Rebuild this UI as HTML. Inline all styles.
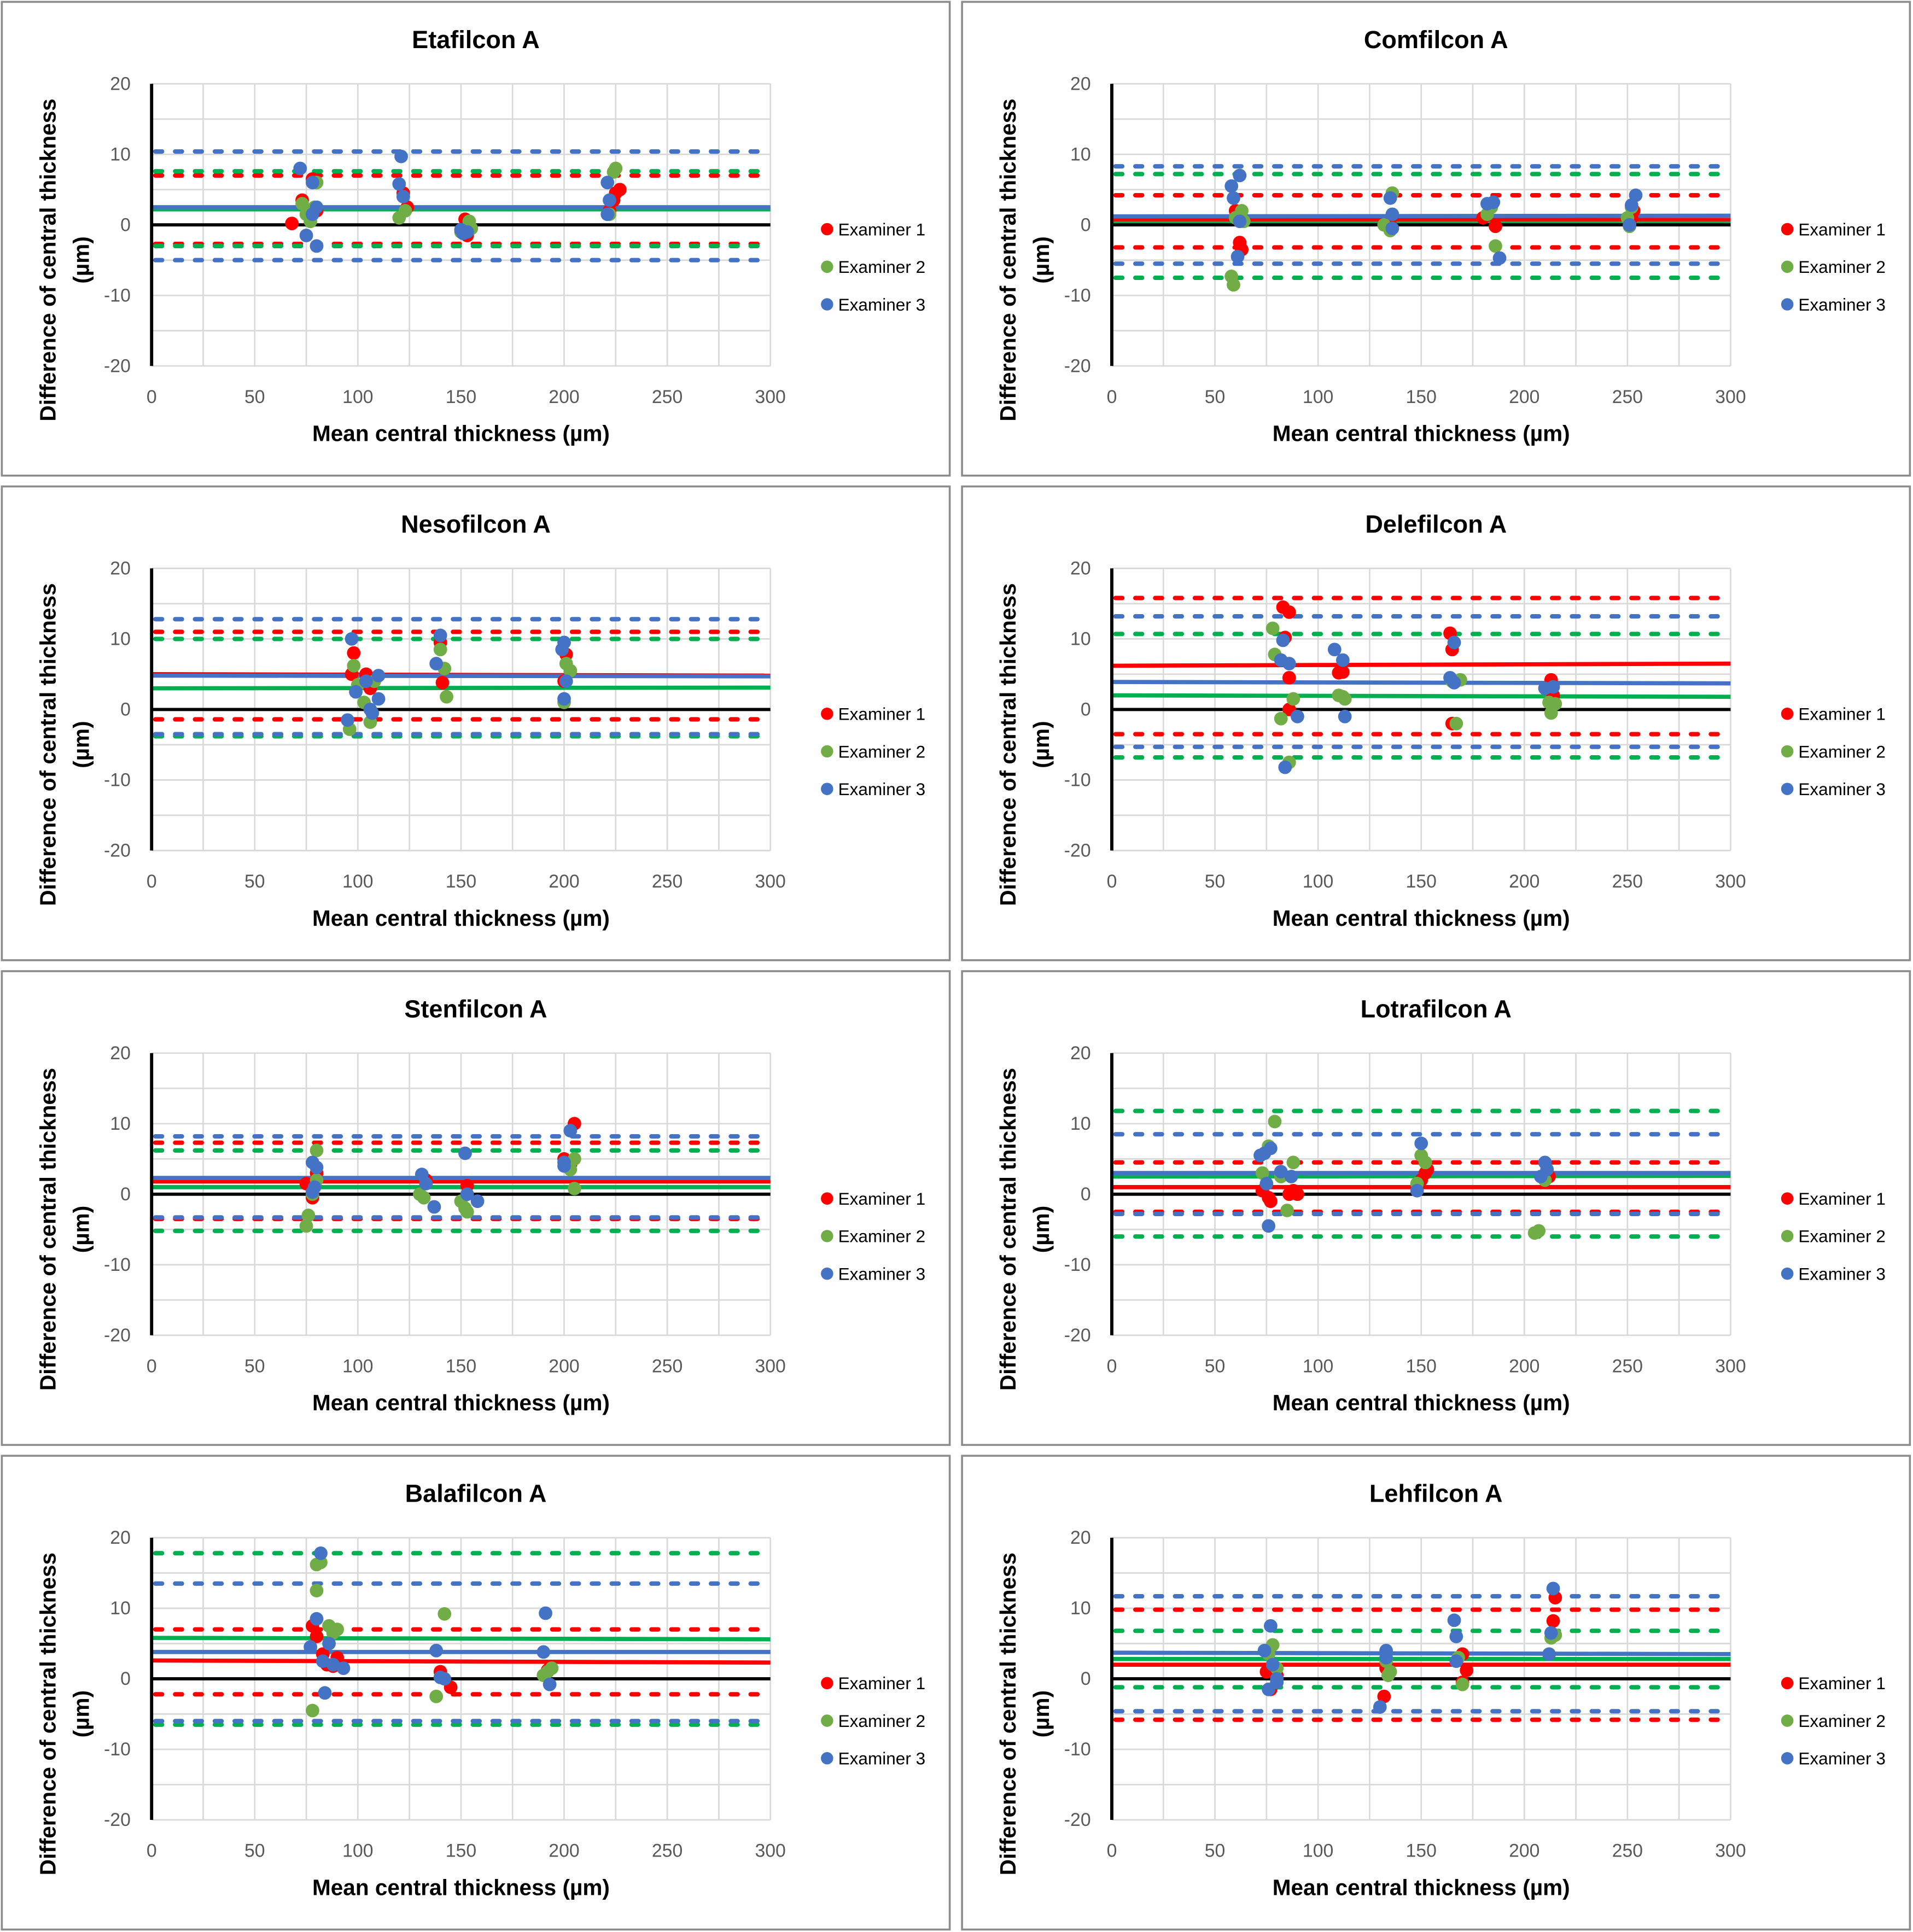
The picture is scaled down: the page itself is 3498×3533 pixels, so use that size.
<!DOCTYPE html>
<html><head><meta charset="utf-8"><style>
html,body{margin:0;padding:0;background:#fff;}
svg{display:block;font-family:"Liberation Sans",sans-serif;}
</style></head><body>
<svg id="fig" width="3498" height="3533" viewBox="0 0 1552 1568" preserveAspectRatio="none" xmlns="http://www.w3.org/2000/svg"></svg>
<script>
const titles=["Etafilcon A","Comfilcon A","Nesofilcon A","Delefilcon A","Stenfilcon A","Lotrafilcon A","Balafilcon A","Lehfilcon A"];
const xTicks=[0,50,100,150,200,250,300];
const yTicks=[20,10,0,-10,-20];
const seriesNames=["Examiner 1","Examiner 2","Examiner 3"];
// mean bias [start,end] per examiner per panel
const meanLines=[
[[2.3,2.3],[2.2,2.2],[2.5,2.5]],
[[0.7,0.7],[0.2,0.2],[1.2,1.3]],
[[5,4.8],[3,3.1],[4.8,4.7]],
[[6.2,6.5],[2,1.8],[3.9,3.7]],
[[1.8,1.8],[1,1],[2.3,2.3]],
[[1,1],[2.5,2.6],[3,3]],
[[2.6,2.3],[5.8,5.6],[3.8,3.8]],
[[2,2],[2.8,2.8],[3.7,3.5]]];
// limits of agreement [upper,lower]
const loaLines=[
[[7,-2.7],[7.6,-3],[10.4,-5]],
[[4.2,-3.2],[7.2,-7.5],[8.3,-5.5]],
[[11,-1.4],[10,-3.8],[12.8,-3.5]],
[[15.8,-3.5],[10.7,-6.8],[13.2,-5.3]],
[[7.3,-3.5],[6.2,-5.2],[8.2,-3.3]],
[[4.5,-2.5],[11.8,-6],[8.5,-2.8]],
[[7,-2.2],[17.8,-6.5],[13.5,-6]],
[[9.8,-5.8],[6.8,-1.2],[11.7,-4.6]]];
const pts1=[
[[68,0.2],[73,3.5],[78,6.5],[80,2],[122,4.5],[124,2.5],[152,0.8],[153,-1.5],[225,4.5],[227,5],[222,2],[224,3.5]],
[[60,2],[62,-2.5],[63,-3.5],[135,0],[180,1],[186,-0.2],[252,1],[253,2]],
[[98,8],[97,5],[104,5],[106,3],[140,9.5],[141,3.8],[200,4],[201,7.8]],
[[83,14.5],[86,13.8],[84,10.2],[86,4.5],[86,0],[110,5.2],[112,5.3],[164,10.8],[165,8.5],[165,-2],[213,4.2],[214,2]],
[[75,1.5],[80,3],[78,-0.5],[133,2],[153,1.2],[205,10],[203,4.2],[200,5]],
[[73,0.5],[76,-0.5],[77,-1],[86,0],[88,0.5],[90,0],[150,2],[152,3],[153,3.5],[210,2],[212,2.5]],
[[78,7.5],[80,6],[83,3.5],[85,2],[88,1.8],[90,3],[140,1],[145,-1.2],[192,1.2],[193,1.5]],
[[75,1],[77,-1.5],[80,0.5],[132,-2.5],[133,1.5],[170,3.5],[172,1.2],[170,-0.5],[215,11.5],[214,8.2]]];
const pts2=[
[[73,3],[75,1.5],[77,0.5],[80,6],[79,2.5],[120,1],[123,2],[150,-1],[154,0.5],[155,-0.5],[224,7.5],[225,8],[222,1.5]],
[[58,-7.3],[59,-8.5],[60,1],[63,2],[64,0.5],[132,0],[135,-0.8],[136,4.5],[182,1.5],[184,2.5],[186,-3],[250,1],[252,2.5],[251,-0.2]],
[[96,-2.8],[98,6.2],[100,3.5],[103,1],[106,-1.8],[108,4],[140,8.5],[142,5.8],[143,1.8],[200,1],[201,6.5],[203,5.5]],
[[78,11.5],[79,7.8],[82,-1.3],[86,-7.5],[88,1.5],[110,2],[112,1.8],[113,1.5],[165,4],[167,-2],[169,4.2],[212,1],[213,-0.5],[215,0.8]],
[[75,-4.5],[76,-3],[80,6.2],[80,2],[78,0],[132,-0.5],[130,0],[150,-1],[152,-2],[153,-2.5],[203,3.5],[205,5],[205,0.8]],
[[73,3],[76,6.8],[79,10.3],[82,2.5],[85,-2.3],[88,4.5],[148,1.5],[150,5.5],[152,4.5],[205,-5.5],[207,-5.2],[210,2]],
[[78,-4.5],[80,12.5],[80,16.2],[82,16.5],[86,7.5],[88,6.5],[90,7],[138,-2.5],[142,9.2],[190,0.5],[192,1],[194,1.5]],
[[76,3.5],[78,4.8],[80,1.5],[80,-0.5],[134,0.5],[135,1],[133,2.5],[168,3],[170,-0.8],[213,5.8],[215,6.2]]];
const pts3=[
[[72,8],[75,-1.5],[78,6],[80,2.5],[80,-3],[78,1.5],[120,5.8],[121,9.7],[122,4],[150,-0.7],[151,-1.2],[153,-1],[221,1.5],[222,3.5],[221,6]],
[[58,5.5],[59,3.8],[62,7],[61,-4.5],[62,0.5],[135,3.8],[136,1.5],[136,-0.5],[182,3],[185,3.2],[188,-4.7],[251,0],[252,2.8],[254,4.2]],
[[95,-1.5],[97,10],[99,2.5],[104,4],[106,0],[107,-0.5],[110,4.8],[110,1.5],[138,6.5],[140,10.5],[200,9.5],[199,8.5],[200,1.5],[201,4]],
[[82,7],[83,9.8],[84,-8.2],[86,6.5],[90,-1],[108,8.5],[112,7],[113,-1],[164,4.5],[166,9.5],[166,3.8],[210,3],[214,3.2]],
[[78,4.5],[80,3.8],[79,1],[78,0.3],[131,2.8],[133,1.5],[137,-1.8],[152,5.8],[153,0],[158,-1],[200,4.5],[203,9],[200,4]],
[[72,5.5],[74,5.8],[75,1.5],[76,-4.5],[77,6.5],[82,3.2],[87,2.5],[148,0.5],[150,7.2],[210,4.5],[211,3.5],[208,2.5]],
[[77,4.5],[80,8.5],[82,17.8],[83,2.5],[84,-2],[86,5],[88,2],[93,1.5],[138,4],[140,0.2],[142,0],[190,3.8],[191,9.3],[193,-0.8]],
[[74,4],[76,-1.5],[77,7.5],[78,2],[80,0],[80,-0.5],[130,-4],[133,4],[133,3],[166,8.3],[167,6],[167,2.5],[212,3.5],[214,12.8],[213,6.5]]];

const NS="http://www.w3.org/2000/svg";
const svg=document.getElementById('fig');
const ptColors=["#ff0000","#70ad47","#4472c4"];
const lineColors=["#ff0000","#00b050","#4472c4"];
function mk(tag,attrs,parent){const e=document.createElementNS(NS,tag);for(const k in attrs)e.setAttribute(k,attrs[k]);parent.appendChild(e);return e;}
const panelW=771, colOff=[0,779], rowOff=[0,393.3,786.7,1180];
for(let p=0;p<8;p++){
  const ox=colOff[p%2], oy=rowOff[Math.floor(p/2)];
  const g=mk('g',{transform:`translate(${ox},${oy})`},svg);
  
  
  const border=mk('rect',{x:1.5,y:1.5,width:panelW-2,height:384.5,fill:'#fff',stroke:'#8c8c8c','stroke-width':1.6},g);
  
  
  const X0=123,X1=625,Y0=68,Y1=297;
  const sx=v=>X0+(v/300)*(X1-X0);
  const sy=v=>Y0+(20-v)/40*(Y1-Y0);
  const t=mk('text',{x:386,y:39,'text-anchor':'middle','font-size':20,'font-weight':'bold',fill:'#000'},g);
  t.textContent=titles[p];
  
  
  for(let v=25;v<=300;v+=25){const l=mk('line',{x1:sx(v),x2:sx(v),y1:Y0,y2:Y1,stroke:'#d9d9d9','stroke-width':1.2},g);}
  for(let v=-20;v<=20;v+=5){if(v===0)continue;const l=mk('line',{x1:X0,x2:X1,y1:sy(v),y2:sy(v),stroke:'#d9d9d9','stroke-width':1.2},g);}
  xTicks.forEach(v=>{const e=mk('text',{x:sx(v),y:327,'text-anchor':'middle','font-size':15,fill:'#595959'},g);e.textContent=v;});
  yTicks.forEach(v=>{const e=mk('text',{x:106,y:sy(v)+5,'text-anchor':'end','font-size':15,fill:'#595959'},g);e.textContent=v;});
  const xt=mk('text',{x:374,y:358,'text-anchor':'middle','font-size':18,'font-weight':'bold',fill:'#000'},g);
  xt.textContent='Mean central thickness (µm)';
  
  
  const yt=mk('text',{transform:'translate(45,211) rotate(-90)','text-anchor':'middle','font-size':18,'font-weight':'bold',fill:'#000'},g);
  
  
  const ts1=mk('tspan',{x:0,dy:0},yt);ts1.textContent='Difference of central thickness';
  const ts2=mk('tspan',{x:0,dy:27},yt);ts2.textContent='(µm)';
  for(let s=0;s<3;s++){
    loaLines[p][s].forEach(v=>{const l=mk('line',{x1:sx(0)+3,x2:X1-3,y1:sy(v),y2:sy(v),stroke:lineColors[s],'stroke-width':3.6,'stroke-dasharray':'5.5 10.6','stroke-linecap':'round'},g);});
  }
  for(let s=0;s<3;s++){
    const m=meanLines[p][s];
    const l=mk('line',{x1:sx(0),x2:X1,y1:sy(m[0]),y2:sy(m[1]),stroke:lineColors[s],'stroke-width':3.4},g);
    
    
  }
  const ya=mk('line',{x1:X0,x2:X0,y1:Y0,y2:Y1,stroke:'#000','stroke-width':2.6},g);
  const xa=mk('line',{x1:X0,x2:X1,y1:sy(0),y2:sy(0),stroke:'#000','stroke-width':2.6},g);
  [pts1,pts2,pts3].forEach((arr,s)=>{
    arr[p].forEach(d=>{const c=mk('circle',{cx:sx(d[0]),cy:sy(d[1]),r:5.5,fill:ptColors[s]},g);});
  });
  seriesNames.forEach((n,s)=>{
    const ly=186+s*30.5;
    const c=mk('circle',{cx:671,cy:ly,r:5,fill:ptColors[s]},g);
    
    
    const e=mk('text',{x:680,y:ly+5,'font-size':14,fill:'#000'},g);
    e.textContent=n;
    
    
  });
}
</script>
</body></html>
